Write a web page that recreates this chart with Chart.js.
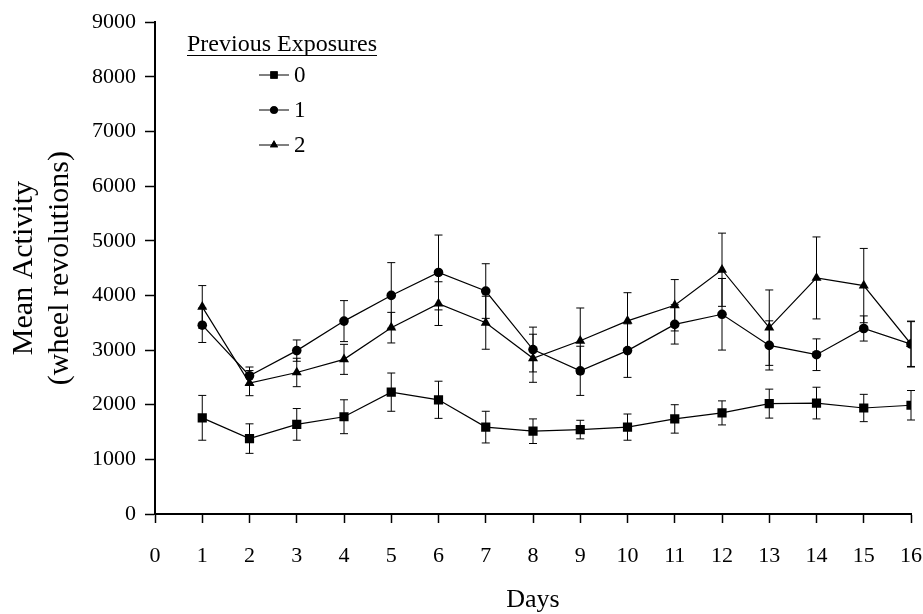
<!DOCTYPE html>
<html lang="en">
<head>
    <meta charset="UTF-8">
    <title>Mean Activity by Day</title>
    <script src="https://cdn.jsdelivr.net/npm/chart.js"></script>
    <style>
        body {
            margin: 0;
            background: #fff;
        }
        .wrap {
            width: 923px;
            height: 614px;
        }
    </style>
</head>
<body>
    <div class="wrap">
        <canvas id="activityChart" width="923" height="614"></canvas>
    </div>
    <script>
        const days = [1, 2, 3, 4, 5, 6, 7, 8, 9, 10, 11, 12, 13, 14, 15, 16];
        const groupLabels = ['0', '1', '2'];
        const pointStyles = ['rect', 'circle', 'triangle'];

        const mean0 = [1760, 1380, 1640, 1780, 2230, 2090, 1590, 1515, 1545, 1590, 1740, 1850, 2020, 2030, 1940, 1990];
        const err0 = [410, 270, 290, 310, 350, 340, 290, 225, 170, 240, 260, 220, 265, 290, 250, 270];
        const mean1 = [3455, 2530, 2990, 3530, 4000, 4420, 4080, 3010, 2620, 2990, 3470, 3655, 3085, 2915, 3395, 3110];
        const err1 = [316, 160, 195, 375, 600, 685, 500, 410, 450, 490, 360, 655, 450, 290, 230, 410];
        const mean2 = [3790, 2395, 2590, 2830, 3410, 3850, 3500, 2850, 3170, 3535, 3820, 4470, 3410, 4320, 4180, 3110];
        const err2 = [390, 230, 260, 275, 280, 400, 485, 440, 600, 515, 470, 670, 690, 750, 680, 420];

        const means = [mean0, mean1, mean2];
        const errs = [err0, err1, err2];
        const legendTitle = 'Previous Exposures';

        const serif = 'Liberation Serif';
        const radii = [6.5, 4.8, 5.8];

        const datasets = means.map((m, i) => ({
            label: groupLabels[i],
            data: days.map((d, j) => ({ x: d, y: m[j] })),
            errors: errs[i],
            borderColor: '#000',
            backgroundColor: '#000',
            borderWidth: 1.2,
            pointStyle: pointStyles[i],
            pointRadius: radii[i],
            pointBorderWidth: 0,
            pointBackgroundColor: '#000',
            tension: 0,
            fill: false
        }));

        // vertical error bars with small caps
        const errorBars = {
            id: 'errorBars',
            beforeDatasetsDraw(chart) {
                const ctx = chart.ctx;
                const xs = chart.scales.x, ys = chart.scales.y;
                ctx.save();
                ctx.strokeStyle = '#000';
                ctx.lineWidth = 1;
                chart.data.datasets.forEach(ds => {
                    ds.data.forEach((p, j) => {
                        const e = ds.errors[j];
                        const px = xs.getPixelForValue(p.x);
                        const top = ys.getPixelForValue(p.y + e);
                        const bot = ys.getPixelForValue(p.y - e);
                        ctx.beginPath();
                        ctx.moveTo(px, top);
                        ctx.lineTo(px, bot);
                        ctx.moveTo(px - 4, top);
                        ctx.lineTo(px + 4, top);
                        ctx.moveTo(px - 4, bot);
                        ctx.lineTo(px + 4, bot);
                        ctx.stroke();
                    });
                });
                ctx.restore();
            }
        };

        // legend drawn like the original figure
        const figLegend = {
            id: 'figLegend',
            afterDraw(chart) {
                const ctx = chart.ctx;
                ctx.save();
                ctx.fillStyle = '#000';
                ctx.strokeStyle = '#000';
                ctx.font = '24px "' + serif + '"';
                ctx.textBaseline = 'middle';
                ctx.textAlign = 'left';
                ctx.fillText(legendTitle, 187, 45);
                const w = ctx.measureText(legendTitle).width;
                ctx.lineWidth = 1;
                ctx.beginPath();
                ctx.moveTo(187, 55.5);
                ctx.lineTo(187 + w, 55.5);
                ctx.stroke();

                ctx.font = '23px "' + serif + '"';
                chart.data.datasets.forEach((ds, i) => {
                    const y = 75 + i * 35;
                    ctx.lineWidth = 1;
                    ctx.beginPath();
                    ctx.moveTo(259, y);
                    ctx.lineTo(289, y);
                    ctx.stroke();
                    Chart.helpers.drawPoint(ctx, {
                        pointStyle: ds.pointStyle,
                        radius: ds.pointRadius * 0.8,
                        rotation: 0,
                        borderWidth: 0
                    }, 274, y);
                    ctx.fill();
                    ctx.fillText(ds.label, 294, y + 1);
                });
                ctx.restore();
            }
        };

        const ctx = document.getElementById('activityChart').getContext('2d');
        const chart = new Chart(ctx, {
            type: 'line',
            data: { datasets: datasets },
            options: {
                responsive: false,
                animation: false,
                layout: { padding: { left: 0, top: 20, right: 0, bottom: 0 } },
                plugins: {
                    legend: { display: false },
                    tooltip: { enabled: false }
                },
                scales: {
                    x: {
                        type: 'linear',
                        min: 0,
                        max: 16,
                        afterFit: s => { s.height = 100; s.paddingRight = 12; },
                        ticks: {
                            stepSize: 1,
                            color: '#000',
                            padding: 20,
                            font: { family: serif, size: 22 },
                            callback: v => String(v)
                        },
                        grid: {
                            drawOnChartArea: false,
                            color: '#000',
                            tickLength: 9,
                            tickWidth: 1.5
                        },
                        border: { color: '#000', width: 2 },
                        title: {
                            display: true,
                            text: 'Days',
                            color: '#000',
                            font: { family: serif, size: 26, lineHeight: 1 },
                            padding: { top: 0, bottom: 1 }
                        }
                    },
                    y: {
                        min: 0,
                        max: 9000,
                        afterFit: s => { s.width = 155; },
                        ticks: {
                            stepSize: 1000,
                            color: '#000',
                            padding: 9,
                            font: { family: serif, size: 22 },
                            callback: v => String(v)
                        },
                        grid: {
                            drawOnChartArea: false,
                            color: '#000',
                            tickLength: 10,
                            tickWidth: 1.5
                        },
                        border: { color: '#000', width: 2 },
                        title: {
                            display: true,
                            text: ['Mean Activity', '(wheel revolutions)'],
                            color: '#000',
                            font: { family: serif, size: 30, lineHeight: 1.17 },
                            padding: { top: 7, bottom: 0 }
                        }
                    }
                }
            },
            plugins: [errorBars, figLegend]
        });
    </script>
</body>
</html>
